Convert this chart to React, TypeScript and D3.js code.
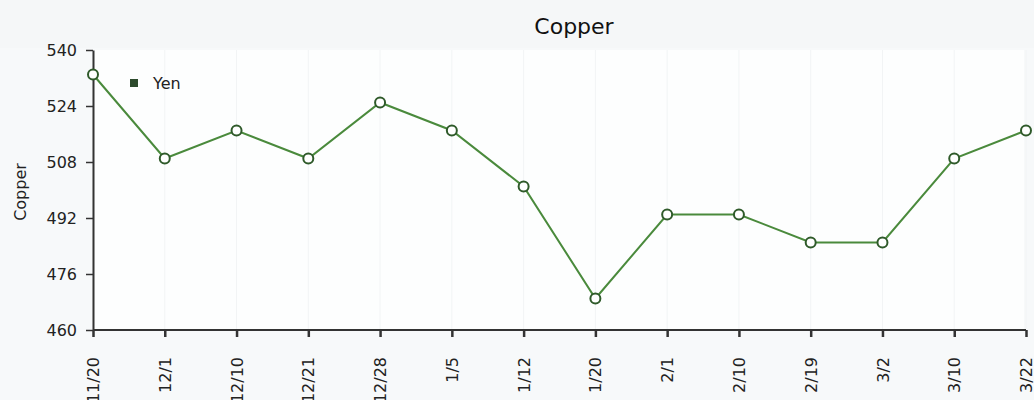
import React, { useEffect, useRef } from "react";
import * as d3 from "d3";

const WIDTH = 1034;
const HEIGHT = 400;

const dates = ["11/20", "12/1", "12/10", "12/21", "12/28", "1/5", "1/12", "1/20", "2/1", "2/10", "2/19", "3/2", "3/10", "3/22"];
const yen = [533, 509, 517, 509, 525, 517, 501, 469, 493, 493, 485, 485, 509, 517];
const yTicks = [460, 476, 492, 508, 524, 540];

const FONT = "'DejaVu Sans', Verdana, sans-serif";

function App() {
    const svgRef = useRef<SVGSVGElement | null>(null);

    const margin = { top: 50, right: 8, bottom: 70, left: 93 };
    const width = WIDTH - margin.left - margin.right;
    const height = HEIGHT - margin.top - margin.bottom;

    useEffect(() => {
        const svg = d3.select(svgRef.current);
        svg.selectAll("*").remove();

        const x = d3.scalePoint<string>().domain(dates).range([0, 933]).padding(0);
        const y = d3.scaleLinear().domain([460, 540]).range([height, 0]);

        // background
        svg.append("rect").attr("width", WIDTH).attr("height", HEIGHT).attr("fill", "#f7f9fa");
        svg.append("rect").attr("width", WIDTH).attr("height", 48).attr("fill", "#f5f7f8");
        svg.append("rect")
            .attr("x", margin.left).attr("y", margin.top)
            .attr("width", width - 2).attr("height", height)
            .attr("fill", "#fdfefe");

        const g = svg.append("g").attr("transform", `translate(${margin.left},${margin.top})`);

        // faint vertical grid
        g.selectAll("line.grid")
            .data(dates)
            .enter()
            .append("line")
            .attr("class", "grid")
            .attr("x1", d => x(d)!).attr("x2", d => x(d)!)
            .attr("y1", 0).attr("y2", height)
            .attr("stroke", "#f2f4f5").attr("stroke-width", 1);

        // y axis
        const yAxis = g.append("g").call(d3.axisLeft(y).tickValues(yTicks).tickSize(7).tickSizeOuter(0).tickPadding(9));
        yAxis.select(".domain").attr("stroke", "#333").attr("stroke-width", 2);
        yAxis.selectAll(".tick line").attr("stroke", "#333").attr("stroke-width", 1.5);
        yAxis.selectAll("text").attr("font-family", FONT).attr("font-size", 16).attr("fill", "#222");

        // x axis
        const xAxis = g.append("g")
            .attr("transform", `translate(0,${height})`)
            .call(d3.axisBottom(x).tickSize(7).tickSizeOuter(0));
        xAxis.select(".domain").attr("stroke", "#333").attr("stroke-width", 2)
            .attr("d", `M0,0H${width}`);
        xAxis.selectAll(".tick line").attr("stroke", "#333").attr("stroke-width", 2.5);
        xAxis.selectAll("text")
            .attr("font-family", FONT).attr("font-size", 16).attr("fill", "#222")
            .attr("transform", "rotate(-90)")
            .attr("text-anchor", "end")
            .attr("x", -27).attr("y", 0).attr("dy", "0.35em");

        // line
        const line = d3.line<number>()
            .x((_, i) => x(dates[i])!)
            .y(d => y(d));
        g.append("path")
            .datum(yen)
            .attr("d", line)
            .attr("fill", "none")
            .attr("stroke", "#4a8a3c")
            .attr("stroke-width", 2);

        g.selectAll("circle")
            .data(yen)
            .enter()
            .append("circle")
            .attr("cx", (_, i) => x(dates[i])!)
            .attr("cy", d => y(d))
            .attr("r", 5)
            .attr("fill", "#ffffff")
            .attr("stroke", "#2f5a2a")
            .attr("stroke-width", 2);

        // title
        svg.append("text")
            .attr("x", 574).attr("y", 34)
            .attr("text-anchor", "middle")
            .attr("font-family", FONT).attr("font-size", 22)
            .attr("fill", "#111")
            .text("Copper");

        // y label
        svg.append("text")
            .attr("transform", "translate(26,192) rotate(-90)")
            .attr("text-anchor", "middle")
            .attr("font-family", FONT).attr("font-size", 16)
            .attr("fill", "#222")
            .text("Copper");

        // legend
        svg.append("rect")
            .attr("x", 130).attr("y", 79).attr("width", 8).attr("height", 8)
            .attr("fill", "#2c4a2c");
        svg.append("text")
            .attr("x", 153).attr("y", 89)
            .attr("font-family", FONT).attr("font-size", 16)
            .attr("fill", "#222")
            .text("Yen");
    }, []);

    return (
        <svg
            ref={svgRef}
            width={WIDTH}
            height={HEIGHT}
            style={{ position: "absolute", left: 0, top: 0 }}
        ></svg>
    );
}

export default App;
